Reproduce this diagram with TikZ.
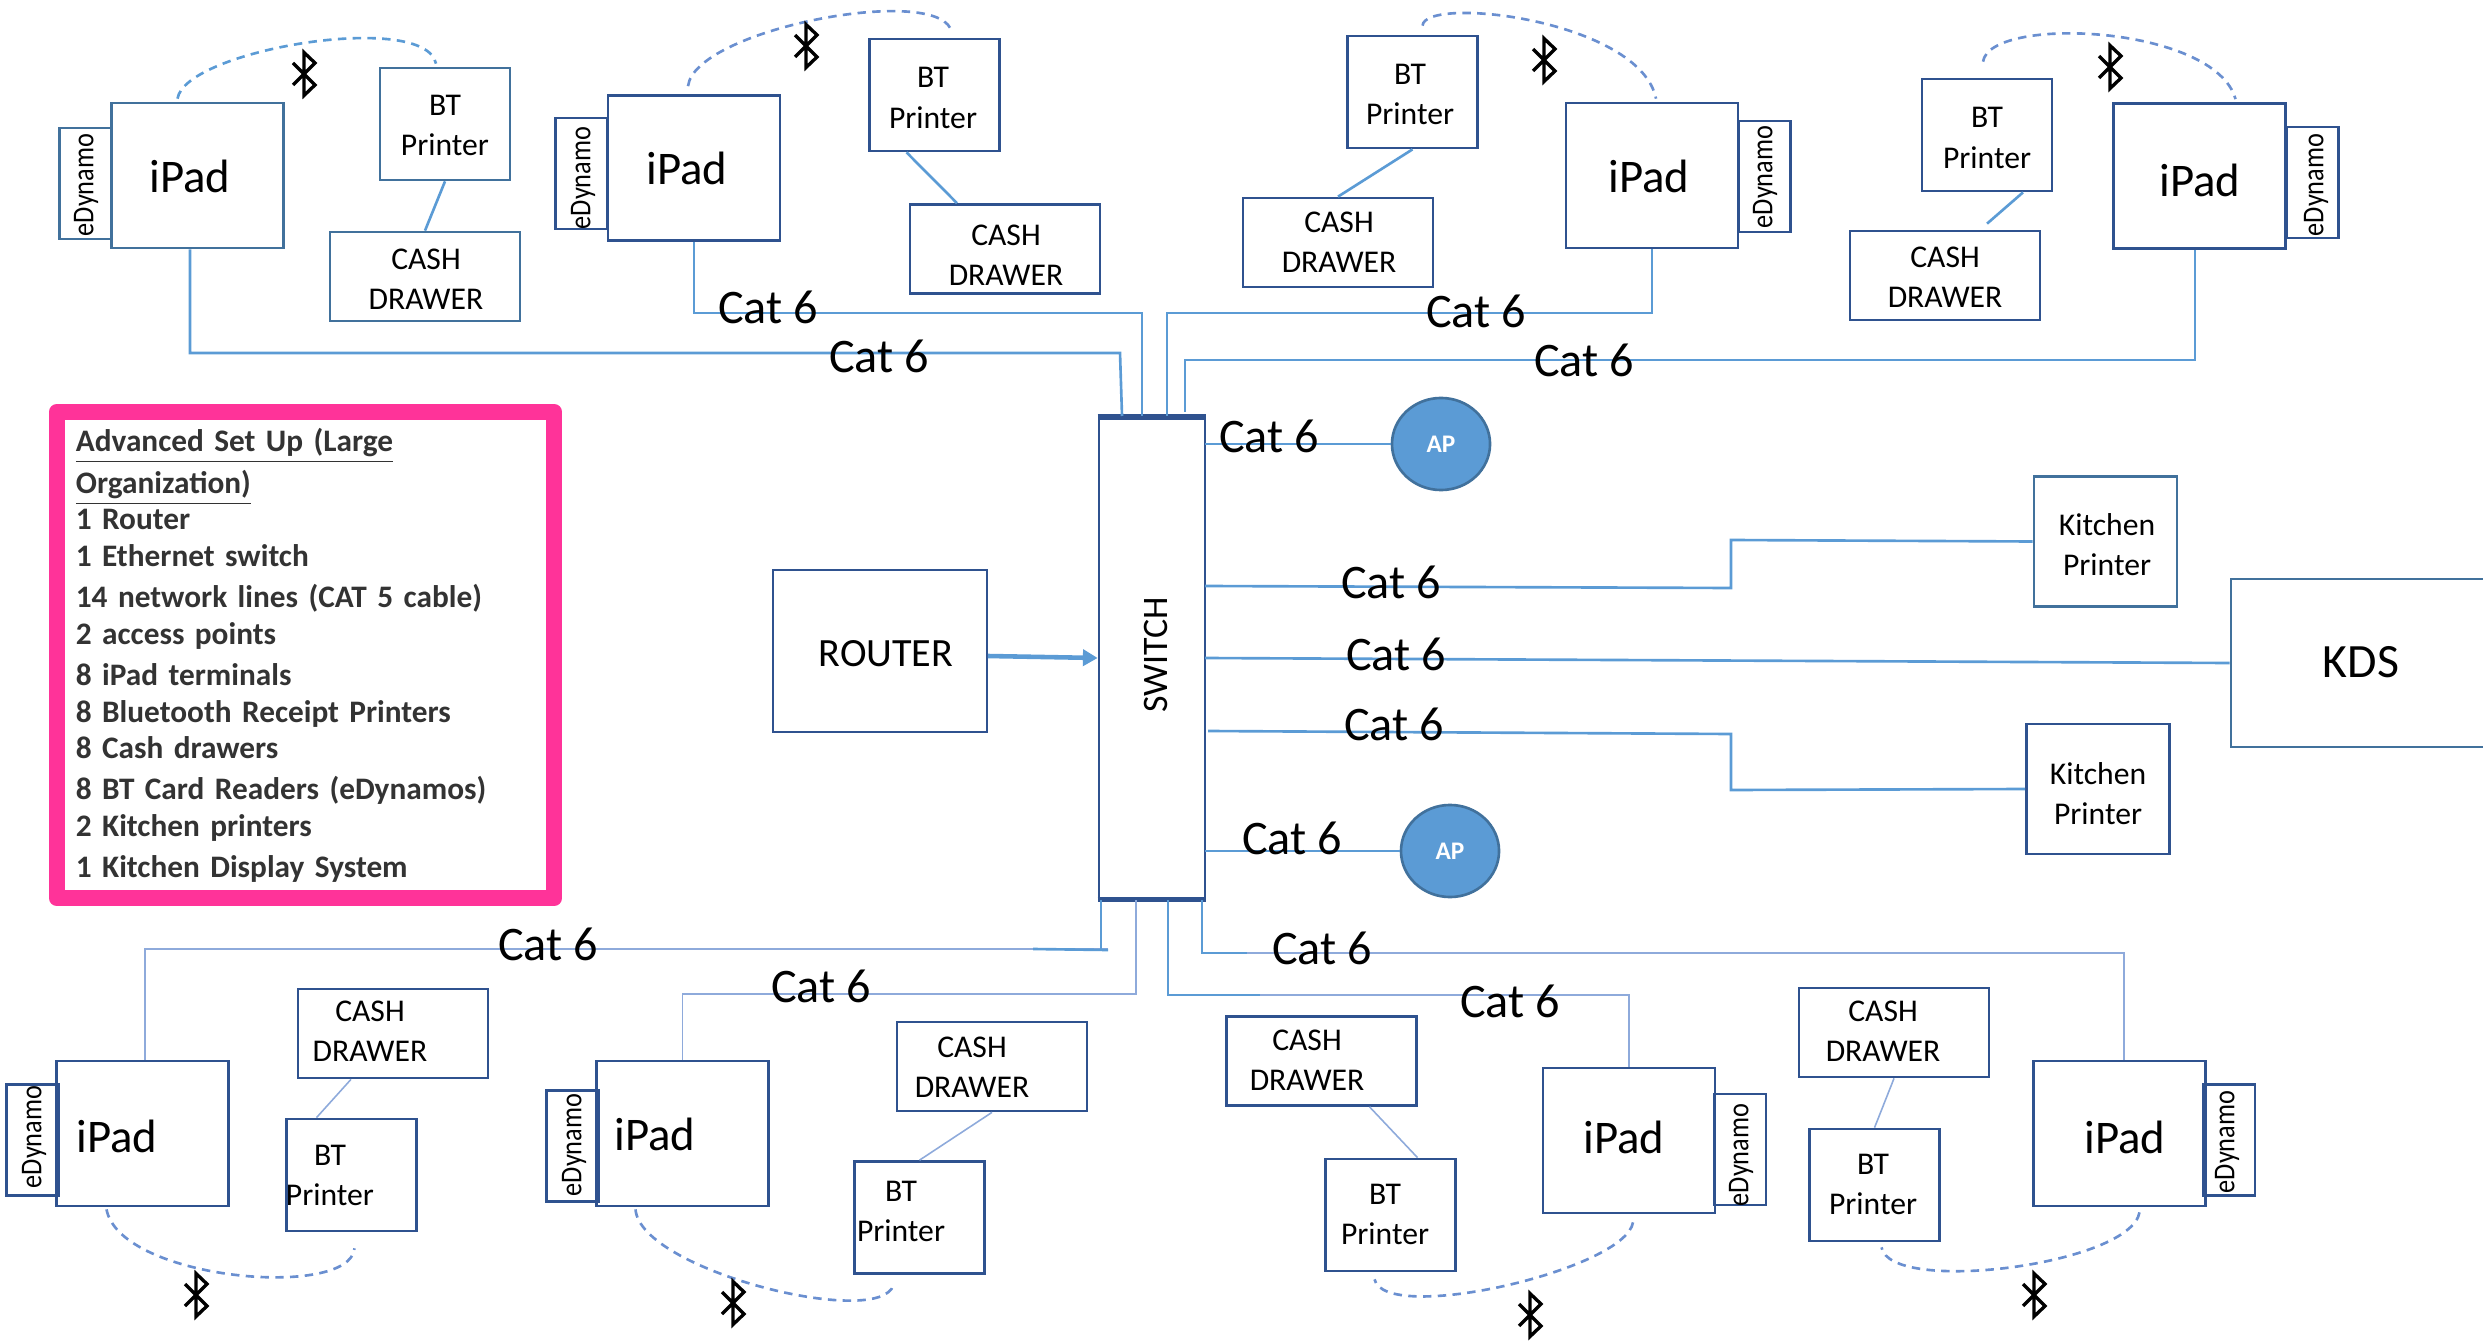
\documentclass[tikz,border=0pt]{standalone}
\usepackage{fontspec}
\setmainfont{Carlito}
\usetikzlibrary{arrows.meta,shapes.geometric}

\definecolor{boxblue}{HTML}{2F528F}
\definecolor{steelblue}{HTML}{41719C}
\definecolor{cableblue}{HTML}{5B9BD5}
\definecolor{paleblue}{HTML}{8EAADB}
\definecolor{linkblue}{HTML}{6A8FD0}
\definecolor{legendpink}{HTML}{FF3399}
\definecolor{legendgrey}{HTML}{333333}

\tikzset{
  devbox/.style={draw=boxblue,line width=.75pt,inner sep=0pt},
  ipadbox/.style={devbox,minimum width=1.72cm,minimum height=1.45cm},
  edynbox/.style={devbox,minimum width=.52cm,minimum height=1.11cm},
  btbox/.style={devbox,minimum width=1.30cm,minimum height=1.12cm},
  cashbox/.style={devbox,minimum width=1.90cm,minimum height=.89cm},
  kitchenbox/.style={devbox,minimum width=1.43cm,minimum height=1.30cm},
  ipadtxt/.style={font=\fontsize{13.3}{16}\selectfont},
  edyntxt/.style={rotate=90,xscale=.87,font=\fontsize{8.6}{10}\selectfont},
  smalltxt/.style={align=center,font=\fontsize{9}{11.4}\selectfont},
  cattxt/.style={font=\fontsize{13.7}{16}\selectfont},
  aptxt/.style={draw=steelblue,fill=cableblue,ellipse,line width=.75pt,inner sep=0pt,
    minimum width=.98cm,minimum height=.92cm,text=white,font=\bfseries\fontsize{7.2}{9}\selectfont},
  cable/.style={draw=cableblue,line width=.75pt},
  thincable/.style={draw=paleblue,line width=.45pt},
  btlink/.style={draw=linkblue,line width=.75pt,dash pattern=on 2.4pt off 1.8pt},
  btrune/.pic={
    \draw[line width=.95pt,line join=miter] (-11,-11) -- (11,11) -- (0,21.5) -- (0,-21.5) -- (11,-11) -- (-11,11);
  }
}

\begin{document}
\begin{tikzpicture}[x=.01cm,y=-.01cm]
    \useasboundingbox (0,0) rectangle (2483,1340);
    \clip (0,0) rectangle (2483,1340);

    % the eight terminals
    \foreach \nm/\x/\y/\tx/\ty/\col in {ipadA/197.5/175.5/190/176/steelblue, ipadB/694/168/687/168/boxblue,
      ipadC/1652/175.5/1649/176/boxblue, ipadD/2199.5/176/2200/180/boxblue, ipadE/142.5/1133.5/117/1136/boxblue,
      ipadF/682.5/1133.5/655/1134/boxblue, ipadG/1629/1140.5/1624/1137/boxblue, ipadH/2119.5/1133.5/2125/1137/boxblue}{
      \node[ipadbox,draw=\col] (\nm) at (\x,\y) {};
      \node[ipadtxt] (\nm t) at (\tx,\ty) {iPad};
    }
    \foreach \nm/\x/\y/\tx/\ty/\col in {edynA/85.5/183.5/86/185/steelblue, edynB/581.5/173.5/583/178/boxblue,
      edynC/1764.5/176.5/1765/177/boxblue, edynD/2312.5/182.5/2316/185/boxblue, edynE/32.5/1140/34/1137/boxblue,
      edynF/572.5/1146/574/1145/boxblue, edynG/1740/1149.5/1741/1155/boxblue, edynH/2229/1140/2227/1142/boxblue}{
      \node[edynbox,draw=\col] (\nm) at (\x,\y) {};
      \node[edyntxt] (\nm t) at (\tx,\ty) {eDynamo};
    }
    \foreach \nm/\x/\y/\tx/\ty/\col in {btA/445/124/445/125.5/steelblue, btB/934.5/95/933/98/boxblue,
      btC/1412.5/92/1410/94.5/boxblue, btD/1987/135/1987/138/boxblue, btE/351.5/1175/330/1175/boxblue,
      btF/919.5/1217.5/901/1211/boxblue, btG/1390.5/1215/1385/1214/boxblue, btH/1874.5/1185/1873/1184.5/boxblue}{
      \node[btbox,draw=\col] (\nm) at (\x,\y) {};
      \node[smalltxt] (\nm t) at (\tx,\ty) {BT\\Printer};
    }
    \foreach \nm/\x/\y/\tx/\ty/\col in {cashA/425/276.5/426/279/steelblue, cashB/1005/249/1006/255/boxblue,
      cashC/1338/242.5/1339/242/boxblue, cashD/1945/275.5/1945/277.5/boxblue, cashE/393/1033.5/370/1031/boxblue,
      cashF/992/1066.5/972/1067/boxblue, cashG/1321.5/1061/1307/1060/boxblue, cashH/1894/1032.5/1883/1031/boxblue}{
      \node[cashbox,draw=\col] (\nm) at (\x,\y) {};
      \node[smalltxt] (\nm t) at (\tx,\ty) {CASH\\DRAWER};
    }

    % centre of the network
    \node[devbox,minimum width=1.06cm,minimum height=4.80cm] (switch) at (1152,658) {};
    \node[rotate=90,font=\fontsize{10.2}{12}\selectfont] (switcht) at (1156,655) {SWITCH};
    \draw[boxblue,line width=1.7pt] (switch.north west) -- (switch.north east);
    \draw[boxblue,line width=1.3pt] (switch.south west) -- (switch.south east);
    \node[devbox,minimum width=2.14cm,minimum height=1.62cm,line width=.5pt] (router) at (880,651) {};
    \node[font=\fontsize{11.4}{13}\selectfont] (routert) at (886,654) {ROUTER};
    \node[aptxt] (apA) at (1441,444) {AP};
    \node[aptxt] (apB) at (1450,851) {AP};
    \node[kitchenbox,draw=steelblue] (kitchenA) at (2105.5,541.5) {};
    \node[smalltxt] (kitchenAt) at (2107,545) {Kitchen\\Printer};
    \node[kitchenbox] (kitchenB) at (2098,789) {};
    \node[smalltxt] (kitchenBt) at (2098,794) {Kitchen\\Printer};
    \node[devbox,draw=steelblue,minimum width=2.69cm,minimum height=1.68cm] (kds) at (2365.5,663) {};
    \node[font=\fontsize{13.6}{16}\selectfont] (kdst) at (2361,662) {KDS};

    % where the cables meet the switch
    \foreach \nm/\x/\y in {tapA/1122/416, tapB/1142/416, tapC/1167/416, tapD/1185/412,
      tapE/1101/900, tapF/1136/900, tapG/1168/900, tapH/1202/900,
      portA/1205/444, portB/1205/586, portC/1205/658, portD/1208/731, portE/1205/851}
      \coordinate (\nm) at (\x,\y);

    \draw[cable] ([xshift=-.075cm]ipadA.south) |- (1120,353) -- (tapA);
    \draw[cable] (ipadB.south) |- (1142,313) -- (tapB);
    \draw[cable] (ipadC.south) |- (1167,313) -- (tapC);
    \draw[cable] ([xshift=-.045cm]ipadD.south) |- (1185,360) -- (tapD);
    \draw[thincable] ([xshift=.025cm]ipadE.north) |- (1108,949);
    \draw[cable] (tapE) -- (1101,950);
    \draw[cable] (1033,949) -- (1108,950);
    \draw[thincable] (ipadF.north) |- (1136,994) -- (tapF);
    \draw[cable] (tapG) |- (1260,995);
    \draw[thincable] (1260,995) -| (ipadG.north);
    \draw[cable] (tapH) |- (1247,953);
    \draw[thincable] (1247,953) -| ([xshift=.045cm]ipadH.north);

    \draw[cable] (portA) -- (apA.west);
    \draw[cable] (portB) -- (1731,588) -- (1731,540) -- (kitchenA.west);
    \draw[cable] (portC) -- (kds.west);
    \draw[cable] (portD) -- (1731,734) -- (1731,790) -- (kitchenB.west);
    \draw[cable] (portE) -- (apB.west);
    \draw[cable,line width=1.3pt,-{Triangle[length=4.2pt,width=4.6pt]}] ([yshift=-.05cm]router.east) -- (switch.west);

    % printer to drawer
    \draw[cable] (btA.south) -- (cashA.north);
    \draw[cable] ([xshift=-.28cm]btB.south) -- ([xshift=-.48cm]cashB.north);
    \draw[cable] (btC.south) -- (cashC.north);
    \draw[cable] ([xshift=.36cm]btD.south) -- ([xshift=.42cm,yshift=.06cm]cashD.north);
    \draw[thincable] ([xshift=-.42cm]cashE.south) -- ([xshift=-.35cm]btE.north);
    \draw[thincable] (cashF.south) -- (btF.north);
    \draw[thincable] ([xshift=.48cm]cashG.south) -- ([xshift=.27cm]btG.north);
    \draw[thincable] (cashH.south) -- (btH.north);

    % bluetooth links
    \draw[btlink,draw=cableblue] ([shift={(-20,-3)}]ipadA.north) .. controls (185,50) and (425,10) .. ([shift={(-9,-3)}]btA.north);
    \draw[btlink] ([shift={(-6,-8)}]ipadB.north) .. controls (695,30) and (930,-15) .. ([shift={(16,-9)}]btB.north);
    \draw[btlink] ([shift={(10,-9)}]btC.north) .. controls (1425,-5) and (1640,20) .. ([shift={(4,-3)}]ipadC.north);
    \draw[btlink] ([shift={(-4,-16)}]btD.north) .. controls (1990,15) and (2215,25) .. ([shift={(36,-3)}]ipadD.north);
    \draw[btlink] ([shift={(-36,2)}]ipadE.south) .. controls (120,1280) and (350,1300) .. ([shift={(3,16)}]btE.south);
    \draw[btlink] ([shift={(-47,2)}]ipadF.south) .. controls (640,1270) and (880,1330) .. ([shift={(-26,10)}]btF.south);
    \draw[btlink] ([shift={(4,8)}]ipadG.south) .. controls (1625,1270) and (1385,1325) .. ([shift={(-16,7)}]btG.south);
    \draw[btlink] ([shift={(20,5)}]ipadH.south) .. controls (2130,1265) and (1890,1295) .. ([shift={(7,5)}]btH.south);

    \foreach \nm/\x/\y in {runeA/304/74, runeB/806/46, runeC/1544/60, runeD/2110/67,
      runeE/196/1295, runeF/733/1303, runeG/1530/1315, runeH/2034/1295}
      \pic (\nm) at (\x,\y) {btrune};

    \foreach \nm/\x/\y in {catA/879/356, catB/768/307, catC/1476/311, catD/1584/360,
      catE/548/944, catF/821/986, catG/1510/1001, catH/1322/948, catI/1269/436,
      catJ/1391/582, catK/1396/654, catL/1394/724, catM/1292/838}
      \node[cattxt] (\nm) at (\x,\y) {Cat 6};

    % parts list
    \node[draw=legendpink,line width=4.55pt,line join=round,text=legendgrey,align=left,
      text width=4.59cm,inner xsep=.19cm,inner ysep=0pt,minimum height=4.86cm,
      font=\bfseries\fontsize{8.9}{10.5}\selectfont] (partlist) at (305.5,655) {%
      \underline{Advanced Set Up (Large}\\[1.4pt]
      \underline{Organization)}\\
      1 Router\\
      1 Ethernet switch\\[1pt]
      14 network lines (CAT 5 cable)\\
      2 access points\\[1.1pt]
      8 iPad terminals\\
      8 Bluetooth Receipt Printers\\
      8 Cash drawers\\[1pt]
      8 BT Card Readers (eDynamos)\\
      2 Kitchen printers\\[1.1pt]
      1 Kitchen Display System};
  \end{tikzpicture}
\end{document}
